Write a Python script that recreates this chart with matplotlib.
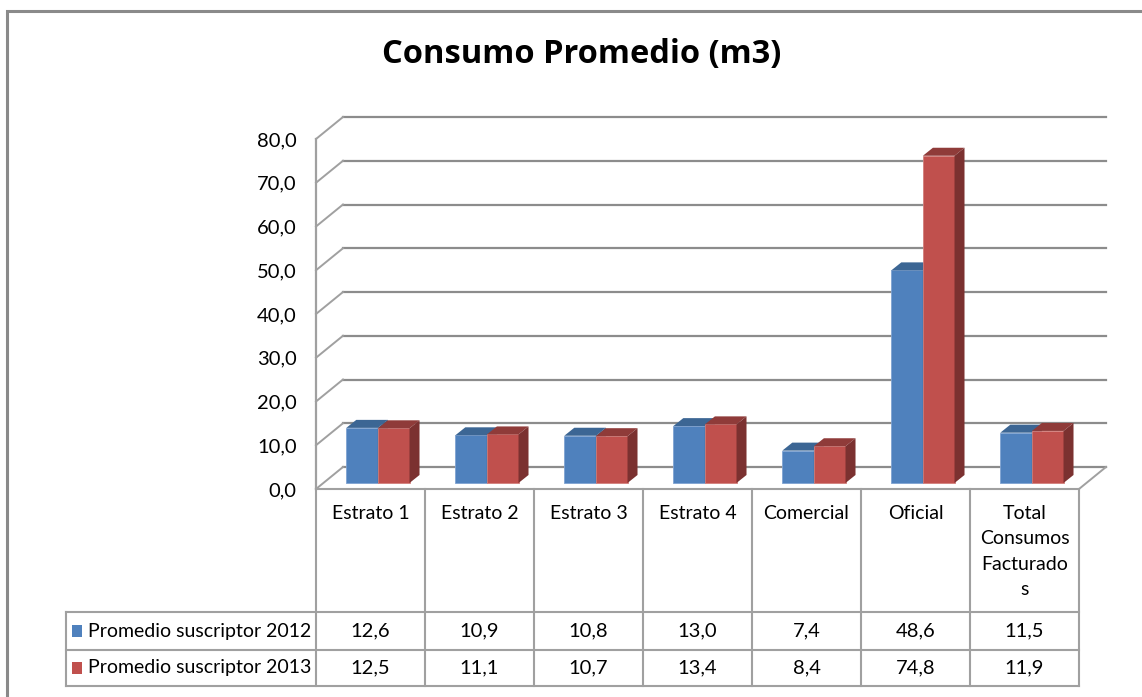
import matplotlib
matplotlib.use("Agg")
import matplotlib.pyplot as plt
from matplotlib.patches import Polygon, Rectangle

# ---------------- data ----------------
title = "Consumo Promedio (m3)"
categories = ["Estrato 1", "Estrato 2", "Estrato 3", "Estrato 4",
              "Comercial", "Oficial", "Total\nConsumos\nFacturado\ns"]
series_names = ["Promedio suscriptor 2012", "Promedio suscriptor 2013"]
values_2012 = [12.6, 10.9, 10.8, 13.0, 7.4, 48.6, 11.5]
values_2013 = [12.5, 11.1, 10.7, 13.4, 8.4, 74.8, 11.9]
yticks = [0, 10, 20, 30, 40, 50, 60, 70, 80]

series = [values_2012, values_2013]
front_cols = ["#4F81BD", "#C0504D"]
top_cols = ["#3C6694", "#8F3B39"]
side_cols = ["#2F5178", "#7B3130"]
edge_cols = ["#7FA3D2", "#D27F7C"]

FONT = ["Lato", "DejaVu Sans"]
plt.rcParams["font.family"] = FONT

W, H = 1142, 697
fig = plt.figure(figsize=(W / 100, H / 100), dpi=100)

# overlay axes in pixel coordinates (frame, title, table)
ov = fig.add_axes([0, 0, 1, 1])
ov.set_xlim(0, W)
ov.set_ylim(H, 0)
ov.axis("off")

# outer frame
ov.plot([7, 7, W + 5], [H + 5, 11, 11], color="#8a8a8a", lw=2.2, solid_joinstyle="miter")

ov.text(582, 63, title, ha="center", va="baseline", fontsize=23.5,
        fontweight="bold", family=["Open Sans", "DejaVu Sans"], color="#000000")

# ---------------- chart (front plane) ----------------
X0, X1, Y0, Y1 = 316, 1079, 489, 139
n = len(categories)
ax = fig.add_axes([X0 / W, 1 - Y0 / H, (X1 - X0) / W, (Y0 - Y1) / H])
ax.set_xlim(-0.5, n - 0.5)
ax.set_ylim(0, 80)
ax.patch.set_visible(False)

pxx = (X1 - X0) / n
pxy = (Y0 - Y1) / 80.0
DX, DY = 27 / pxx, 22 / pxy        # wall depth
bx0, by0 = 7.4 / pxx, 6 / pxy       # bar front offset
bdx, bdy = 10 / pxx, 8 / pxy        # bar depth
w = 0.29

grid_col = "#8c8c8c"
for v in yticks:
    ax.plot([-0.5 + DX, n - 0.5 + DX], [v + DY, v + DY], color=grid_col, lw=1.6,
            clip_on=False, zorder=1)
    ax.plot([-0.5, -0.5 + DX], [v, v + DY], color="#a0a0a0", lw=1.4,
            clip_on=False, zorder=1)
ax.plot([n - 0.5, n - 0.5 + DX], [0, DY], color="#a0a0a0", lw=1.4, clip_on=False, zorder=1)

for i in range(n):
    for j, vals in enumerate(series):
        v = vals[i]
        xc = i + bx0 + (j - 0.5) * w
        xl, xr = xc - w / 2, xc + w / 2
        z = 3 + 2 * j
        ax.bar(xc, v, width=w, bottom=by0, color=front_cols[j],
               edgecolor=edge_cols[j], linewidth=0.6, clip_on=False, zorder=z)
        top = [(xl, by0 + v), (xr, by0 + v), (xr + bdx, by0 + v + bdy), (xl + bdx, by0 + v + bdy)]
        side = [(xr, by0), (xr + bdx, by0 + bdy), (xr + bdx, by0 + v + bdy), (xr, by0 + v)]
        ax.add_patch(Polygon(top, closed=True, facecolor=top_cols[j], edgecolor="none",
                             clip_on=False, zorder=z))
        ax.add_patch(Polygon(side, closed=True, facecolor=side_cols[j], edgecolor="none",
                             clip_on=False, zorder=z))

ax.set_xticks([])
ax.set_yticks(yticks)
ax.set_yticklabels([f"{t:.1f}".replace(".", ",") for t in yticks])
ax.tick_params(axis="y", length=0, pad=14, labelsize=14.5, labelcolor="#000000")
for s in ["top", "right", "bottom"]:
    ax.spines[s].set_visible(False)
ax.spines["left"].set_color("#a0a0a0")
ax.spines["left"].set_linewidth(1.6)

# ---------------- data table ----------------
tcol = "#a0a0a0"
TL = 66
rows_y = [489, 612, 650, 686]
colw = (X1 - X0) / n
for k in range(n + 1):
    ov.plot([X0 + k * colw] * 2, [rows_y[0], rows_y[-1]], color=tcol, lw=1.5)
ov.plot([TL, TL], [rows_y[1], rows_y[-1]], color=tcol, lw=1.5)
ov.plot([X0, X1], [rows_y[0]] * 2, color=tcol, lw=1.5)
for y in rows_y[1:]:
    ov.plot([TL, X1], [y, y], color=tcol, lw=1.5)

for i, cat in enumerate(categories):
    ov.text(X0 + (i + 0.5) * colw, 505, cat, ha="center", va="top", fontsize=14,
            linespacing=1.6, color="#000000")

for j, vals in enumerate(series):
    yc = (rows_y[1 + j] + rows_y[2 + j]) / 2
    ov.add_patch(Rectangle((72, yc - 6), 10, 12, facecolor=front_cols[j], edgecolor="none"))
    ov.text(88, yc, series_names[j], ha="left", va="center", fontsize=14, color="#000000")
    for i, v in enumerate(vals):
        ov.text(X0 + (i + 0.5) * colw, yc, f"{v:.1f}".replace(".", ","),
                ha="center", va="center", fontsize=14.5, color="#000000")

fig.savefig("out.png", dpi=100)
